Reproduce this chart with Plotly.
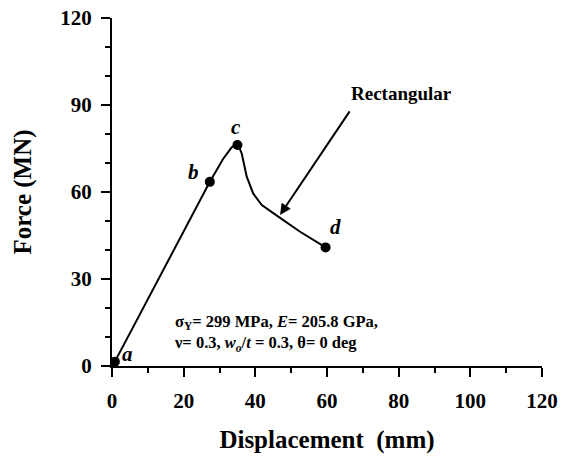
import plotly.graph_objects as go

# Curve data (Displacement mm, Force MN)
disp = [0.8, 27.3, 31.0, 33.4, 34.4, 35.3, 36.2, 37.6, 39.4, 41.8, 46.4, 52.5, 59.6]
force = [1.5, 63.5, 71.4, 75.4, 76.3, 76.0, 73.3, 65.3, 59.5, 55.5, 51.5, 46.3, 40.9]

# Labelled points
pt_labels = ["a", "b", "c", "d"]
pt_x = [0.8, 27.3, 35.0, 59.6]
pt_y = [1.5, 63.5, 76.2, 40.9]
lbl_x = [4.4, 22.8, 34.6, 62.4]
lbl_y = [4.0, 67.0, 82.5, 48.0]

x_ticks = [0, 20, 40, 60, 80, 100, 120]
y_ticks = [0, 30, 60, 90, 120]

FONT = "Liberation Serif"

fig = go.Figure()
fig.add_trace(go.Scatter(x=disp, y=force, mode="lines",
                         line=dict(color="black", width=2), showlegend=False))
fig.add_trace(go.Scatter(x=pt_x, y=pt_y, mode="markers",
                         marker=dict(color="black", size=10), showlegend=False))

for t, x, y in zip(pt_labels, lbl_x, lbl_y):
    fig.add_annotation(x=x, y=y, text="<i>" + t + "</i>", showarrow=False,
                       font=dict(family=FONT, size=21, color="black", weight="bold"))

fig.add_annotation(x=46.9, y=52.1, ax=66.6, ay=88.3, axref="x", ayref="y",
                   xref="x", yref="y", text="", showarrow=True,
                   arrowhead=2, arrowsize=1.1, arrowwidth=2, arrowcolor="black")
fig.add_annotation(x=80.8, y=93.8, text="Rectangular", showarrow=False,
                   font=dict(family=FONT, size=19, color="black", weight="bold"))

fig.add_annotation(x=16.7, y=11.4, xanchor="left", align="left", showarrow=False,
                   text="σ<sub>Y</sub>= 299 MPa, <i>E</i>= 205.8 GPa,<br>"
                        "ν= 0.3, <i>w<sub>o</sub></i>/<i>t</i> = 0.3, θ= 0 deg",
                   font=dict(family=FONT, size=16.5, color="black", weight="bold"))

axis_common = dict(showline=True, linecolor="black", linewidth=2,
                   ticks="outside", ticklen=9, tickwidth=2, tickcolor="black",
                   showgrid=False, zeroline=False, automargin=False,
                   tickfont=dict(family=FONT, size=21, color="black", weight="bold"))

fig.update_xaxes(range=[0, 120], tickvals=x_ticks, ticklabelstandoff=6, **axis_common,
                 minor=dict(dtick=10, ticks="outside", ticklen=5, tickwidth=2, tickcolor="black"),
                 title=dict(text="Displacement  (mm)", standoff=18,
                            font=dict(family=FONT, size=25, color="black", weight="bold")))
fig.update_yaxes(range=[0, 120], tickvals=y_ticks, ticklabelstandoff=5, **axis_common,
                 minor=dict(dtick=10, ticks="outside", ticklen=5, tickwidth=2, tickcolor="black"),
                 title=dict(text="Force (MN)", standoff=22,
                            font=dict(family=FONT, size=25, color="black", weight="bold")))

fig.update_layout(width=562, height=462, margin=dict(l=112, r=20, t=18, b=96),
                  plot_bgcolor="white", paper_bgcolor="white")

fig.write_html("out.html")
